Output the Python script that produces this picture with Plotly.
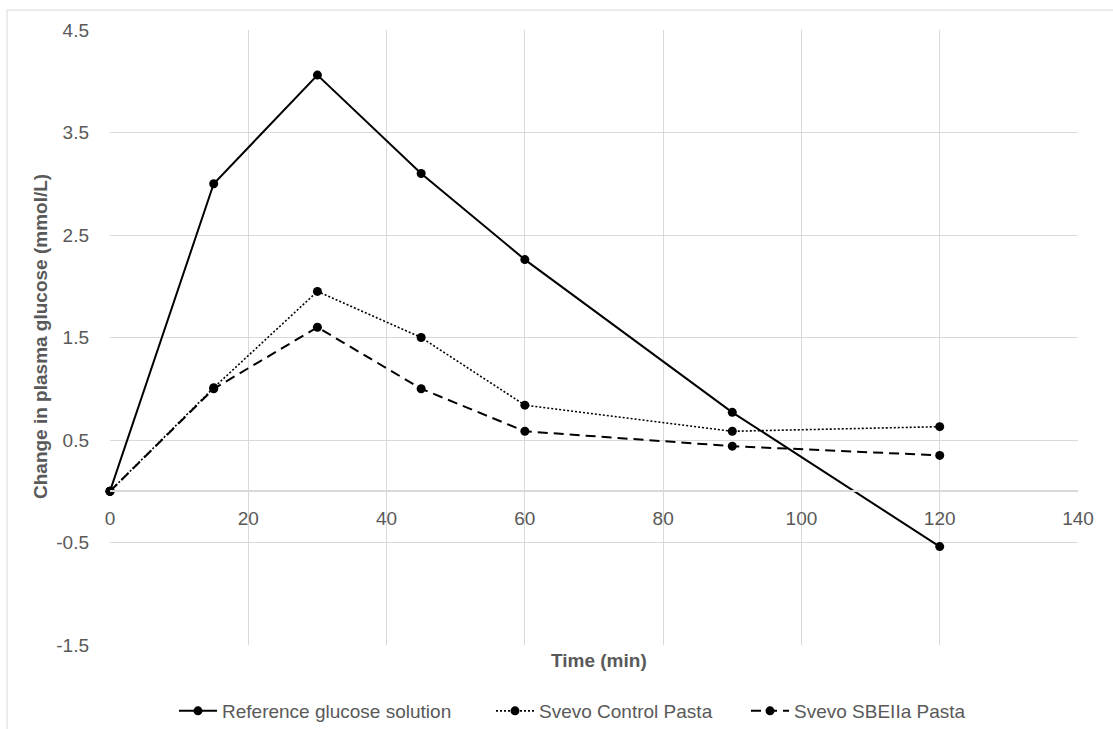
import plotly.graph_objects as go

time_min = [0, 15, 30, 45, 60, 90, 120]
reference_glucose = [0, 3.00, 4.06, 3.10, 2.26, 0.77, -0.54]
svevo_control = [0, 1.01, 1.95, 1.50, 0.84, 0.585, 0.63]
svevo_sbeiia = [0, 1.00, 1.60, 1.00, 0.585, 0.44, 0.35]

series_names = ["Reference glucose solution", "Svevo Control Pasta", "Svevo SBEIIa Pasta"]
x_ticks = [0, 20, 40, 60, 80, 100, 120, 140]
y_ticks = [4.5, 3.5, 2.5, 1.5, 0.5, -0.5, -1.5]
y_tick_labels = ["4.5", "3.5", "2.5", "1.5", "0.5", "-0.5", "-1.5"]

FONT = "Liberation Sans, Arial, sans-serif"
TXT = "#595959"
GRID = "#d9d9d9"
FS = 19

W, H = 1113, 729
L, R, T, B = 110, 35, 30, 84
pw, ph = W - L - R, H - T - B

def px_x(px):
    return (px - L) / pw

def px_y(py):
    return (H - B - py) / ph

fig = go.Figure()
styles = [("solid", 2), ("2px,2px", 1.6), ("10px,6px", 2)]
legend_ids = ["legend", "legend2", "legend3"]
legend_left = [174, 491, 746]
for name, ys, (dash, w), lid in zip(series_names, [reference_glucose, svevo_control, svevo_sbeiia], styles, legend_ids):
    fig.add_trace(go.Scatter(
        x=time_min, y=ys, name=name, mode="lines+markers",
        line=dict(color="black", width=w, dash=dash),
        marker=dict(color="black", size=9),
        cliponaxis=False, legend=lid,
    ))

legend_common = dict(orientation="h", xanchor="left", y=px_y(711), yanchor="middle",
                     font=dict(family=FONT, size=FS, color=TXT), itemwidth=38,
                     bgcolor="rgba(0,0,0,0)")

fig.update_layout(
    width=W, height=H,
    margin=dict(l=L, r=R, t=T, b=B, autoexpand=False),
    paper_bgcolor="white", plot_bgcolor="white",
    font=dict(family=FONT, color=TXT, size=FS),
    showlegend=True,
    legend=dict(x=px_x(legend_left[0]), **legend_common),
    legend2=dict(x=px_x(legend_left[1]), **legend_common),
    legend3=dict(x=px_x(legend_left[2]), **legend_common),
    xaxis=dict(range=[0, 140], tickvals=x_ticks, showgrid=True, gridcolor=GRID, gridwidth=1,
               zeroline=False, showline=True, linecolor=GRID, linewidth=1.5,
               anchor="free", position=0.25, ticks="", ticklabelstandoff=10,
               tickfont=dict(size=FS, color=TXT)),
    yaxis=dict(range=[-1.5, 4.5], tickvals=y_ticks, ticktext=y_tick_labels,
               showgrid=True, gridcolor=GRID, gridwidth=1,
               zeroline=False, showline=False, ticks="", ticklabelstandoff=20,
               tickfont=dict(size=FS, color=TXT)),
    annotations=[
        dict(text="<b>Change in plasma glucose (mmol/L)</b>", xref="paper", yref="paper",
             x=px_x(40), y=px_y(337), textangle=-90, showarrow=False,
             xanchor="center", yanchor="middle", font=dict(size=FS, color=TXT)),
        dict(text="<b>Time (min)</b>", xref="paper", yref="paper",
             x=px_x(599), y=px_y(660), showarrow=False,
             xanchor="center", yanchor="middle", font=dict(size=FS, color=TXT)),
    ],
    shapes=[
        dict(type="rect", xref="paper", yref="paper", x0=px_x(7), x1=px_x(1125),
             y0=px_y(740), y1=px_y(10), line=dict(color=GRID, width=1), layer="below"),
    ],
)

fig.write_html("out.html", config={"displayModeBar": False},
               post_script="document.body.style.margin='0';document.body.style.overflow='hidden';")
